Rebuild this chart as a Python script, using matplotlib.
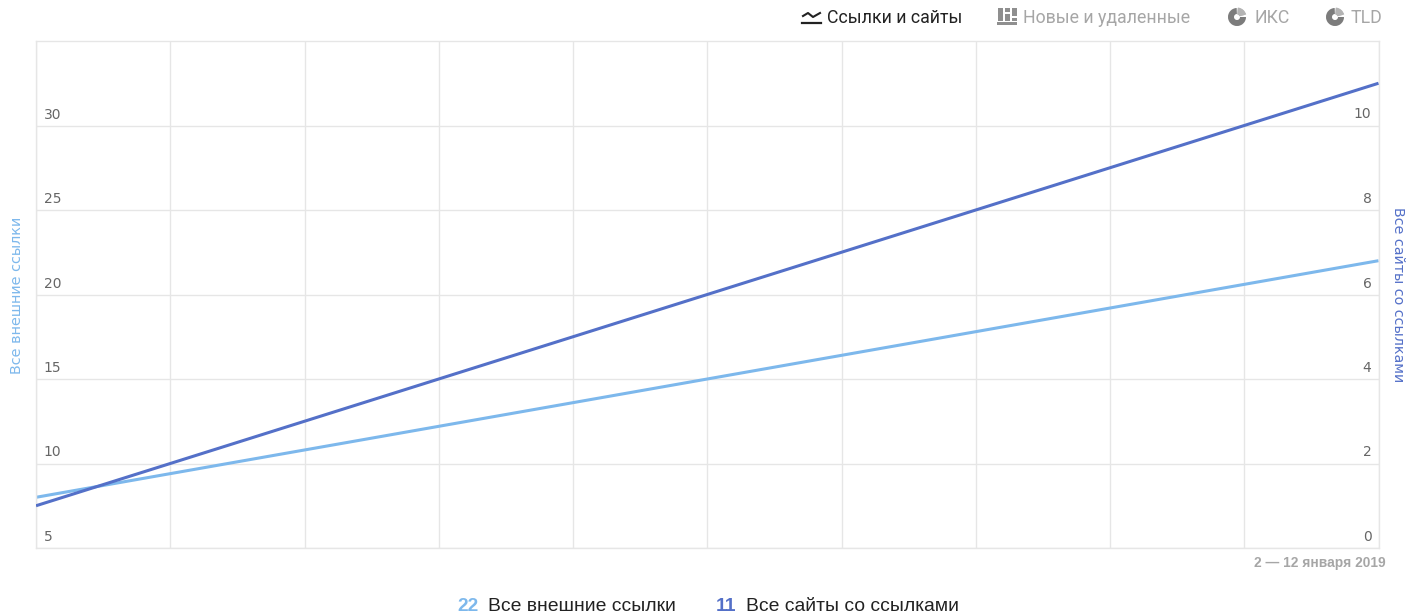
import matplotlib
matplotlib.use('Agg')
import matplotlib.pyplot as plt
from matplotlib.patches import Wedge, Rectangle
from matplotlib.transforms import ScaledTranslation

W, H = 1422, 616

# Данные
dias = [2, 3, 4, 5, 6, 7, 8, 9, 10, 11, 12]
enlaces = [8, 9.4, 10.8, 12.2, 13.6, 15, 16.4, 17.8, 19.2, 20.6, 22]
sitios = [1, 2, 3, 4, 5, 6, 7, 8, 9, 10, 11]
ticks_izq = [5, 10, 15, 20, 25, 30]
ticks_der = [0, 2, 4, 6, 8, 10]
tabs = ['Ссылки и сайты', 'Новые и удаленные', 'ИКС', 'TLD']

AZUL_CLARO = '#7db8ec'
AZUL = '#5470c8'
GRIS = '#e6e6e6'
TXT = '#666666'
plt.rcParams['font.family'] = ['DejaVu Sans']


def rect_px(x0, y0, x1, y1):
    return [x0 / W, 1 - y1 / H, (x1 - x0) / W, (y1 - y0) / H]


fig = plt.figure(figsize=(W / 100, H / 100), dpi=100)

# Capa en pixeles para los iconos
capa = fig.add_axes([0, 0, 1, 1])
capa.set_xlim(0, W)
capa.set_ylim(H, 0)
capa.axis('off')

ax = fig.add_axes(rect_px(36, 41, 1378.5, 548))
ax2 = ax.twinx()
ax.set_xlim(2, 12)
ax.set_ylim(5, 35)
ax2.set_ylim(0, 12)

ax.plot(dias, enlaces, color=AZUL_CLARO, lw=2.2, solid_capstyle='butt')
ax2.plot(dias, sitios, color=AZUL, lw=2.2, solid_capstyle='butt')

ax.set_xticks(dias)
ax.set_xticklabels([])
ax.tick_params(axis='x', length=0)
ax.grid(True, color=GRIS, lw=1)
ax.set_axisbelow(True)

# Subimos las etiquetas unos pixeles sobre la rejilla
sube = ScaledTranslation(0, 4 / 100, fig.dpi_scale_trans)

ax.set_yticks(ticks_izq)
ax.tick_params(axis='y', length=0, direction='in', pad=-5.5, labelsize=10, labelcolor=TXT)
for t in ax.get_yticklabels():
    t.set_ha('left')
    t.set_va('bottom')
    t.set_transform(t.get_transform() + sube)

ax2.set_yticks(ticks_der)
ax2.tick_params(axis='y', length=0, direction='in', pad=-5, labelsize=10, labelcolor=TXT)
for t in ax2.get_yticklabels():
    t.set_ha('right')
    t.set_va('bottom')
    t.set_transform(t.get_transform() + sube)

for s in ax.spines.values():
    s.set_color(GRIS)
    s.set_linewidth(1)
for s in ax2.spines.values():
    s.set_visible(False)

# Titulos de los ejes
fig.text(17 / W, 1 - 295 / H, 'Все внешние ссылки', rotation=90, color=AZUL_CLARO,
         fontsize=10.4, ha='center', va='center')
fig.text(1398 / W, 1 - 295 / H, 'Все сайты со ссылками', rotation=270, color=AZUL,
         fontsize=10.3, ha='center', va='center')

# Pestañas
fuente_tab = ['Roboto', 'DejaVu Sans']
for texto, x, color in zip(tabs, [827, 1023, 1254, 1351], ['#222222', '#a6a6a6', '#a6a6a6', '#a6a6a6']):
    fig.text(x / W, 1 - 23 / H, texto, color=color, fontsize=12.8, family=fuente_tab, ha='left', va='baseline')

# Iconos
capa.plot([802, 821], [23, 23], color='#222222', lw=1.6)
capa.plot([803, 808, 813, 820], [16, 13, 17, 13], color='#222222', lw=1.5)
capa.add_patch(Rectangle((997, 22), 20, 2.5, color='#8f8f8f', lw=0))
for x0 in [998, 1005, 1012]:
    capa.add_patch(Rectangle((x0, 8), 5, 13, color='#8f8f8f', lw=0))
capa.add_patch(Rectangle((1005, 12), 5, 1.6, color='white', lw=0))
capa.add_patch(Rectangle((1012, 16), 5, 1.6, color='white', lw=0))
for cx in [1237, 1335]:
    capa.add_patch(Wedge((cx, 17), 9, 0, 360, width=6, color='#7c7c7c', lw=0))
    capa.add_patch(Wedge((cx, 17), 9.5, 275, 345, width=7, color='#b4b4b4', lw=0))
    capa.add_patch(Wedge((cx, 17), 9.5, 345, 360, width=7, color='white', lw=0))
    capa.add_patch(Wedge((cx, 17), 9.5, 268, 275, width=7, color='white', lw=0))

# Fecha
fig.text(1386 / W, 1 - 567 / H, '2 — 12 января 2019', color='#a6a6a6', fontsize=9.9,
         family=['Liberation Sans', 'DejaVu Sans'], fontweight='bold', ha='right', va='baseline')

# Leyenda
fuente_ley = ['Liberation Sans', 'DejaVu Sans']
fig.text(457 / W, 1 - 611 / H, '22', color=AZUL_CLARO, fontsize=13.9, fontweight='bold', family=fuente_ley, ha='left', va='baseline')
fig.text(488 / W, 1 - 611 / H, 'Все внешние ссылки', color='#222222', fontsize=13.9, family=fuente_ley, ha='left', va='baseline')
fig.text(716 / W, 1 - 611 / H, '11', color=AZUL, fontsize=13.9, fontweight='bold', family=fuente_ley, ha='left', va='baseline')
fig.text(746 / W, 1 - 611 / H, 'Все сайты со ссылками', color='#222222', fontsize=13.9, family=fuente_ley, ha='left', va='baseline')

fig.savefig('out.png', dpi=100)
